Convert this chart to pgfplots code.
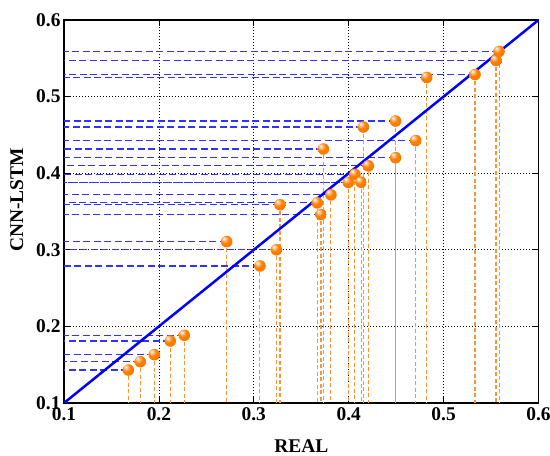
\documentclass[border=0pt]{standalone}
\usepackage{pgfplots}
\pgfplotsset{compat=1.18}
\usepackage{pgfplotstable}
\usepackage{fontspec}
\setmainfont{Liberation Serif}
\definecolor{ballorange}{RGB}{255,128,0}
\definecolor{dashorange}{RGB}{250,150,50}
\definecolor{dashblue}{RGB}{50,50,255}

\pgfdeclareradialshading{orangeball}{\pgfpoint{-12bp}{14bp}}{%
  color(0bp)=(white);
  color(7bp)=(ballorange!45!white);
  color(17bp)=(ballorange);
  color(40bp)=(ballorange!92!black);
  color(70bp)=(ballorange!70!black)}
\pgfdeclareplotmark{oball}{%
  \pgfpathcircle{\pgfpointorigin}{\pgfplotmarksize}%
  \pgfshadepath{orangeball}{0}%
  \pgfusepath{}}

\pgfplotstableread{
x y
0.1678 0.1431
0.1804 0.1539
0.1952 0.1631
0.2120 0.1809
0.2268 0.1884
0.2714 0.3106
0.3065 0.2789
0.3238 0.3000
0.3276 0.3588
0.3669 0.3613
0.3708 0.3460
0.3733 0.4316
0.3813 0.3717
0.3996 0.3880
0.4066 0.3984
0.4130 0.3882
0.4154 0.4603
0.4207 0.4096
0.4494 0.4681
0.4494 0.4202
0.4706 0.4426
0.4822 0.5250
0.5331 0.5288
0.5552 0.5472
0.5584 0.5590
}\pts

\begin{document}
\begin{tikzpicture}
\begin{axis}[
  scale only axis, width=474.5bp, height=383bp,
  xmin=0.1, xmax=0.6, ymin=0.1, ymax=0.6,
  xtick={0.1,0.2,0.3,0.4,0.5,0.6}, ytick={0.1,0.2,0.3,0.4,0.5,0.6},
  xticklabels={0.1,0.2,0.3,0.4,0.5,0.6}, yticklabels={0.1,0.2,0.3,0.4,0.5,0.6},
  grid=major,
  major grid style={black, line width=0.7bp, dash pattern=on 1bp off 2bp},
  tick style={black, line width=0.8bp}, major tick length=6bp,
  tick pos=both, tick align=inside,
  axis line style={black, line width=1.2bp},
  /pgf/number format/assume math mode=true,
  tick label style={font=\fontsize{19.5}{21}\selectfont\bfseries},
  label style={font=\fontsize{19.5}{21}\selectfont\bfseries},
  xticklabel style={yshift=-1bp},
  xlabel={REAL}, ylabel={CNN-LSTM},
  xlabel style={at={(axis description cs:0.5,-0.112)}, anchor=center},
  ylabel style={at={(axis description cs:-0.0997,0.53)}, anchor=center},
]
\addplot[draw=none, mark=none,
  error bars/.cd, x dir=minus, x explicit, error mark=none,
  error bar style={draw=dashblue, line width=1.1bp, dash pattern=on 7bp off 3.5bp}]
  table[x=x, y=y, x error minus expr=\thisrow{x}-0.1] {\pts};
\addplot[draw=none, mark=none,
  error bars/.cd, y dir=minus, y explicit, error mark=none,
  error bar style={draw=dashorange, line width=1.05bp, dash pattern=on 4bp off 2.5bp}]
  table[x=x, y=y, y error minus expr=\thisrow{y}-0.1] {\pts};
\addplot[blue, line width=2.5bp, no marks] coordinates {(0.1,0.1) (0.6,0.6)};
\addplot[only marks, mark=oball, mark size=5.8bp] table[x=x,y=y] {\pts};
\end{axis}
\pgfresetboundingbox
\path ([xshift=-64bp,yshift=-53bp]current axis.south west) rectangle ([xshift=11.5bp,yshift=20bp]current axis.north east);
\end{tikzpicture}
\end{document}
